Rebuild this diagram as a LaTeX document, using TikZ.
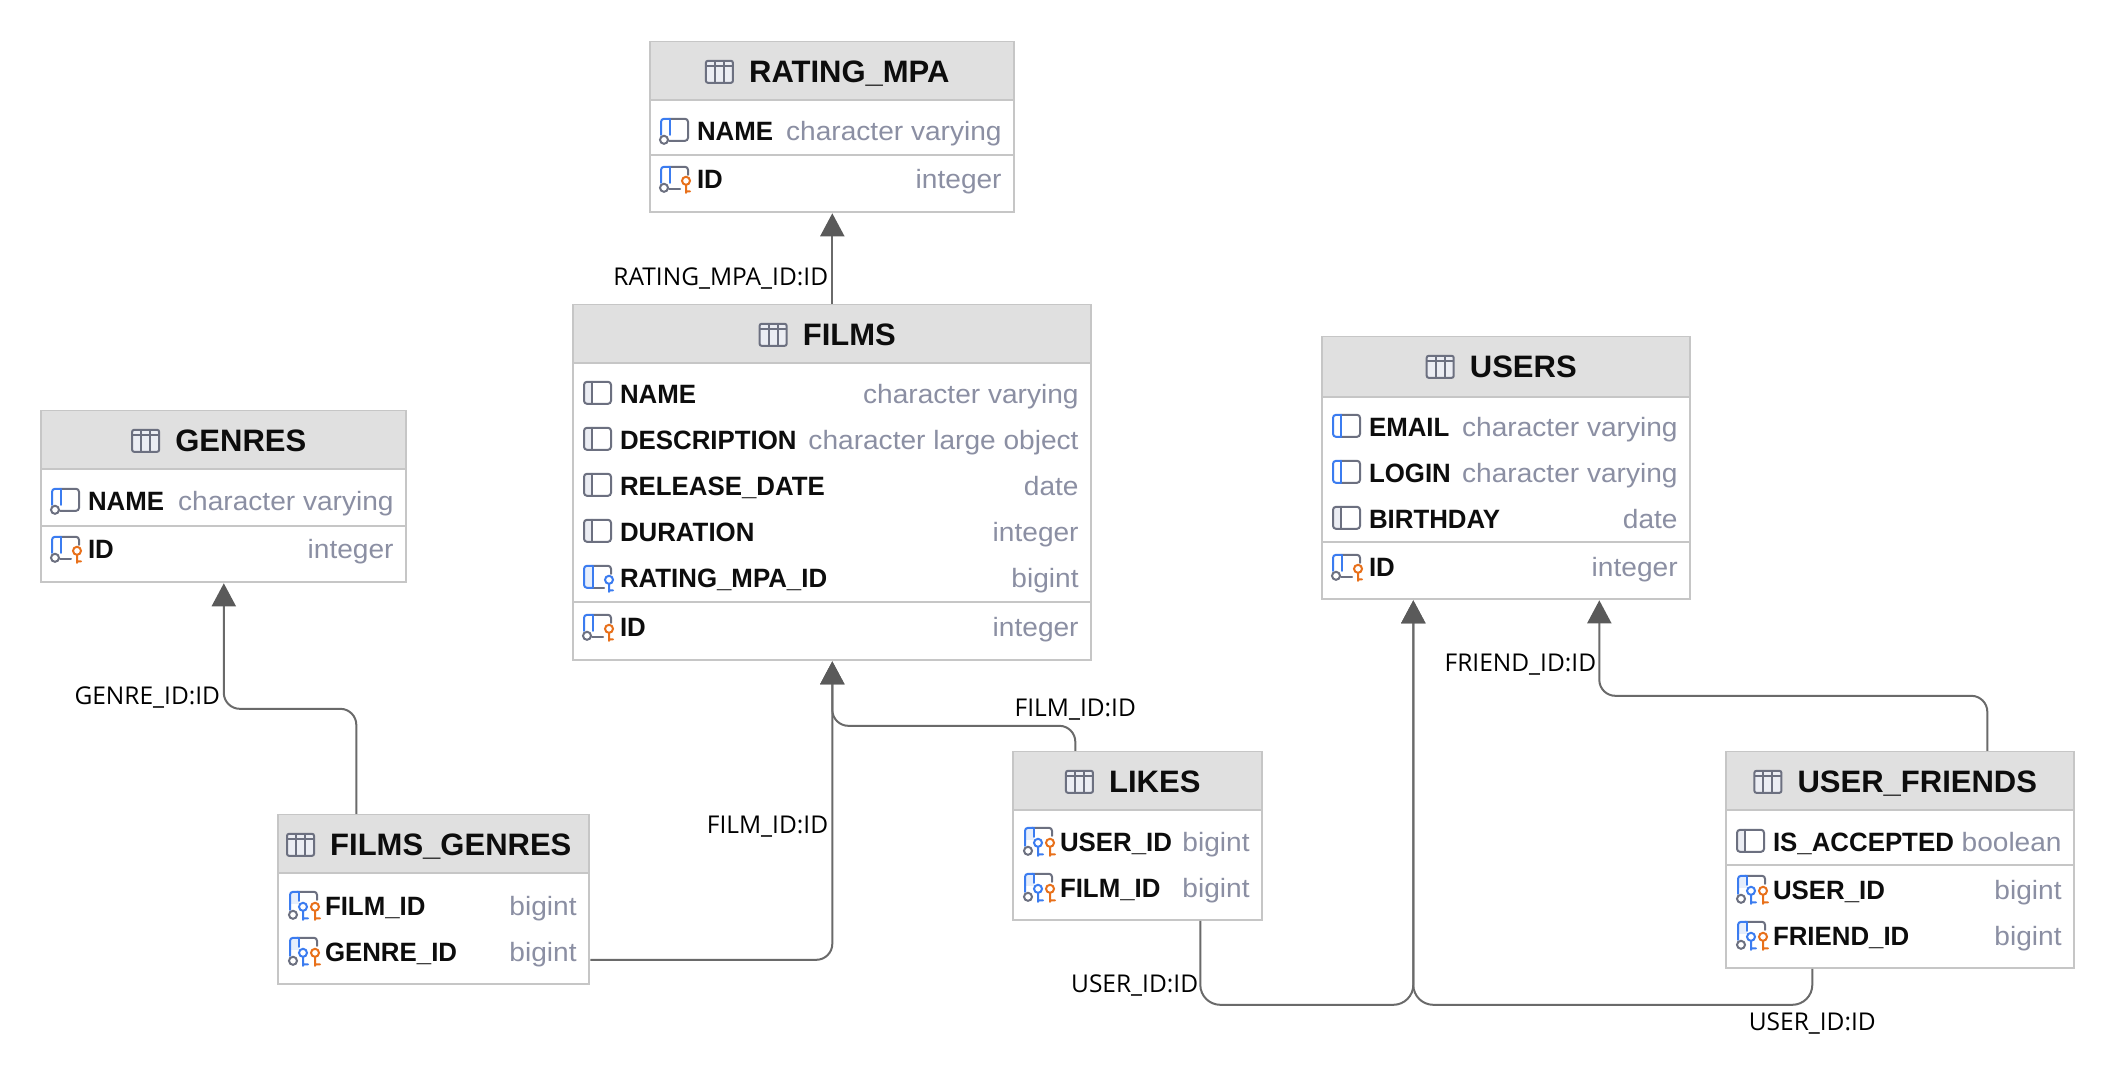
\documentclass[tikz,border=0pt]{standalone}
\usepackage{fontspec}
\setmainfont{Liberation Sans}
\newfontfamily\labelfont{Open Sans}
\newfontfamily\titlefont[FakeStretch=1.0]{Liberation Sans}
\newfontfamily\rowfont[FakeStretch=0.975]{Liberation Sans}
\newfontfamily\typefont[FakeStretch=1.06]{Liberation Sans}
\usetikzlibrary{arrows.meta}
\definecolor{hdr}{HTML}{E0E0E0}
\definecolor{edge}{HTML}{C6C6C6}
\definecolor{conn}{HTML}{6A6A6A}
\definecolor{tip}{HTML}{5A5A5A}
\definecolor{typec}{HTML}{8B8FA3}
\definecolor{ico}{HTML}{6C7080}
\definecolor{icob}{HTML}{3B7CF0}
\definecolor{icoo}{HTML}{E8701A}
\definecolor{icof}{HTML}{EBEDF3}
\definecolor{icofb}{HTML}{E6EEFC}
\tikzset{
  x=1pt,y=-1pt,
  tablebox/.style={draw=edge,line width=2pt,fill=white,inner sep=0pt,anchor=north west},
  headbox/.style={fill=hdr,inner sep=0pt,anchor=north west},
  seprule/.style={draw=edge,line width=2pt},
  titletext/.style={inner sep=0pt,anchor=base,font=\titlefont\fontsize{31}{31}\selectfont\bfseries,text=black!95},
  nametext/.style={inner sep=0pt,anchor=base west,font=\rowfont\fontsize{26.5}{26.5}\selectfont\bfseries,text=black!95},
  typetext/.style={inner sep=0pt,anchor=base east,font=\typefont\fontsize{26.5}{26.5}\selectfont,text=typec},
  edgelabel/.style={inner sep=0pt,font=\labelfont\fontsize{24.5}{24.5}\selectfont,text=black},
  connector/.style={draw=conn,line width=2pt,rounded corners=16pt,-{Triangle[length=23pt,width=24pt,color=tip,fill=tip]},shorten >=0.5pt},
  icoline/.style={line width=2pt,line cap=round},
  pics/tableicon/.style={code={
    \draw[ico,line width=2pt,fill=icof,rounded corners=2pt] (0,-22) rectangle (27,0);
    \draw[ico,line width=2pt] (0,-16.5) -- (27,-16.5) (9,-22) -- (9,0) (18,-22) -- (18,0);
  }},
  pics/tableiconshift/.style={code={\pic at (-43,0) {tableicon};}},
  pics/colplain/.style={code={
    \fill[icof,rounded corners=2pt] (0,-11) rectangle (8,11);
    \draw[ico,icoline,rounded corners=3pt] (0,-11) rectangle (27,11);
    \draw[ico,icoline] (8,-11) -- (8,11);
  }},
  pics/colblue/.style={code={
    \draw[ico,icoline,rounded corners=3pt] (8,-11) -- (27,-11) -- (27,11) -- (8,11);
    \draw[icob,icoline,rounded corners=3pt] (8,-11) -- (0,-11) -- (0,11) -- (8,11);
    \draw[icob,icoline] (8,-11) -- (8,11);
  }},
  pics/colindex/.style={code={
    \draw[ico,icoline,rounded corners=3pt] (8,-11) -- (27,-11) -- (27,11) -- (8,11);
    \draw[icob,icoline,rounded corners=3pt] (8,-11) -- (0,-11) -- (0,5);
    \draw[icob,icoline] (9,-11) -- (9,5);
    \draw[ico,icoline] (3,10) circle (4pt);
  }},
  pics/colpk/.style={code={
    \draw[ico,icoline,rounded corners=3pt] (8,-11) -- (27,-11) -- (27,-3);
    \draw[ico,icoline] (8,11) -- (19,11);
    \draw[icob,icoline,rounded corners=3pt] (8,-11) -- (0,-11) -- (0,5);
    \draw[icob,icoline] (9,-11) -- (9,5);
    \draw[ico,icoline] (3,10) circle (4pt);
    \draw[icoo,icoline] (25,3) circle (4pt) (25,7) -- (25,15) (25,13.5) -- (29,13.5);
  }},
  pics/colfk/.style={code={
    \fill[icofb] (0,-10) rectangle (9,10);
    \draw[ico,icoline,rounded corners=3pt] (8,-11) -- (27,-11) -- (27,-3);
    \draw[ico,icoline] (8,11) -- (20,11);
    \draw[icob,icoline,rounded corners=3pt] (8,-11) -- (0,-11) -- (0,11) -- (8,11);
    \draw[icob,icoline] (9,-11) -- (9,11);
    \draw[icob,icoline] (25,3) circle (4pt) (25,7) -- (25,15) (25,13.5) -- (29,13.5);
  }},
  pics/colpkfk/.style={code={
    \fill[icofb] (1,-12) rectangle (10,-1);
    \draw[ico,icoline,rounded corners=3pt] (8,-13) -- (28,-13) -- (28,-5);
    \draw[icob,icoline,rounded corners=3pt] (9,-13) -- (1,-13) -- (1,5);
    \draw[icob,icoline] (10,-13) -- (10,-4);
    \draw[ico,icoline] (4,10) circle (4pt);
    \draw[icob,icoline] (14,2) circle (4pt) (14,6) -- (14,15) (14,13.5) -- (19,13.5);
    \draw[icoo,icoline] (26,2) circle (4pt) (26,6) -- (26,15) (26,13.5) -- (31,13.5);
  }},
}
% id, left, right, top, header bottom, bottom, title
\newcommand{\dbtable}[7]{%
  \def\tabL{#2}\def\tabR{#3}%
  \node[tablebox,minimum width=#3pt-#2pt,minimum height=#6pt-#4pt] (#1) at (#2,#4) {};
  \node[headbox,minimum width=#3pt-#2pt-2pt,minimum height=#5pt-#4pt] (#1-head) at (#2+1,#4+1) {};
  \draw[seprule] (#2,#5+1) -- (#3,#5+1);
  \node[titletext] (#1-title) at (#2/2+#3/2+18,#4+42) {#7};
  \pic at (#1-title.base west) {tableiconshift};
}
% id, icon, y, name, type
\newcommand{\colrow}[5]{%
  \pic at (\tabL+11.7,#3) {#2};
  \node[nametext] (#1-name) at (\tabL+47.5,#3+10.7) {#4};
  \node[typetext] (#1-type) at (\tabR-11.5,#3+10.7) {#5};
}
\newcommand{\sepline}[1]{\draw[seprule] (\tabL,#1) -- (\tabR,#1);}
\begin{document}
\begin{tikzpicture}
\useasboundingbox (0.7,1.2) rectangle (2116.7,1083.2);

\dbtable{rating}{650}{1014}{42}{100}{212}{RATING\_MPA}
\colrow{r1}{colindex}{131}{NAME}{character varying}
\sepline{156}
\colrow{r2}{colpk}{179}{ID}{integer}

\dbtable{films}{573}{1091}{305}{363}{660}{FILMS}
\colrow{f1}{colplain}{394}{NAME}{character varying}
\colrow{f2}{colplain}{440}{DESCRIPTION}{character large object}
\colrow{f3}{colplain}{486}{RELEASE\_DATE}{date}
\colrow{f4}{colplain}{532}{DURATION}{integer}
\colrow{f5}{colfk}{578}{RATING\_MPA\_ID}{bigint}
\sepline{603}
\colrow{f6}{colpk}{627}{ID}{integer}

\dbtable{genres}{41}{406}{411}{469}{582}{GENRES}
\colrow{g1}{colindex}{501}{NAME}{character varying}
\sepline{527}
\colrow{g2}{colpk}{549}{ID}{integer}

\dbtable{users}{1322}{1690}{337}{397}{599}{USERS}
\colrow{u1}{colblue}{427}{EMAIL}{character varying}
\colrow{u2}{colblue}{473}{LOGIN}{character varying}
\colrow{u3}{colplain}{519}{BIRTHDAY}{date}
\sepline{543}
\colrow{u4}{colpk}{567}{ID}{integer}

\dbtable{fg}{278}{589}{815}{873}{984}{FILMS\_GENRES}
\colrow{fg1}{colpkfk}{906}{FILM\_ID}{bigint}
\colrow{fg2}{colpkfk}{952}{GENRE\_ID}{bigint}

\dbtable{likes}{1013}{1262}{752}{810}{920}{LIKES}
\colrow{l1}{colpkfk}{842}{USER\_ID}{bigint}
\colrow{l2}{colpkfk}{888}{FILM\_ID}{bigint}

\dbtable{uf}{1726}{2074}{752}{810}{968}{USER\_FRIENDS}
\colrow{uf1}{colplain}{842}{IS\_ACCEPTED}{boolean}
\sepline{866}
\colrow{uf2}{colpkfk}{890}{USER\_ID}{bigint}
\colrow{uf3}{colpkfk}{936}{FRIEND\_ID}{bigint}

% connectors
\draw[connector] (films.north) -- (rating.south);
\draw[connector] ([xshift=-77.5pt]fg.north) -- ++(0,-105) -| (genres.south);
\draw[connector] ([yshift=-60.5pt]fg.east) -| (films.south);
\draw[connector] ([xshift=-62.5pt]likes.north) -- ++(0,-25) -| (films.south);
\draw[connector,rounded corners=20pt] ([xshift=62.5pt]likes.south) -- ++(0,84) -| ([xshift=-93pt]users.south);
\draw[connector,rounded corners=20pt] ([xshift=-88pt]uf.south) -- ++(0,36) -| ([xshift=-93pt]users.south);
\draw[connector] ([xshift=87pt]uf.north) -- ++(0,-55) -| ([xshift=93pt]users.south);

% labels
\node[edgelabel,anchor=base east] (lab1) at (829,287) {RATING\_MPA\_ID:ID};
\node[edgelabel,anchor=base east] (lab2) at (221,706) {GENRE\_ID:ID};
\node[edgelabel,anchor=base east] (lab3) at (829,835) {FILM\_ID:ID};
\node[edgelabel,anchor=base] (lab4) at (1076,718) {FILM\_ID:ID};
\node[edgelabel,anchor=base east] (lab5) at (1199,994) {USER\_ID:ID};
\node[edgelabel,anchor=base] (lab6) at (1813,1032) {USER\_ID:ID};
\node[edgelabel,anchor=base east] (lab7) at (1597,673) {FRIEND\_ID:ID};
\end{tikzpicture}
\end{document}
